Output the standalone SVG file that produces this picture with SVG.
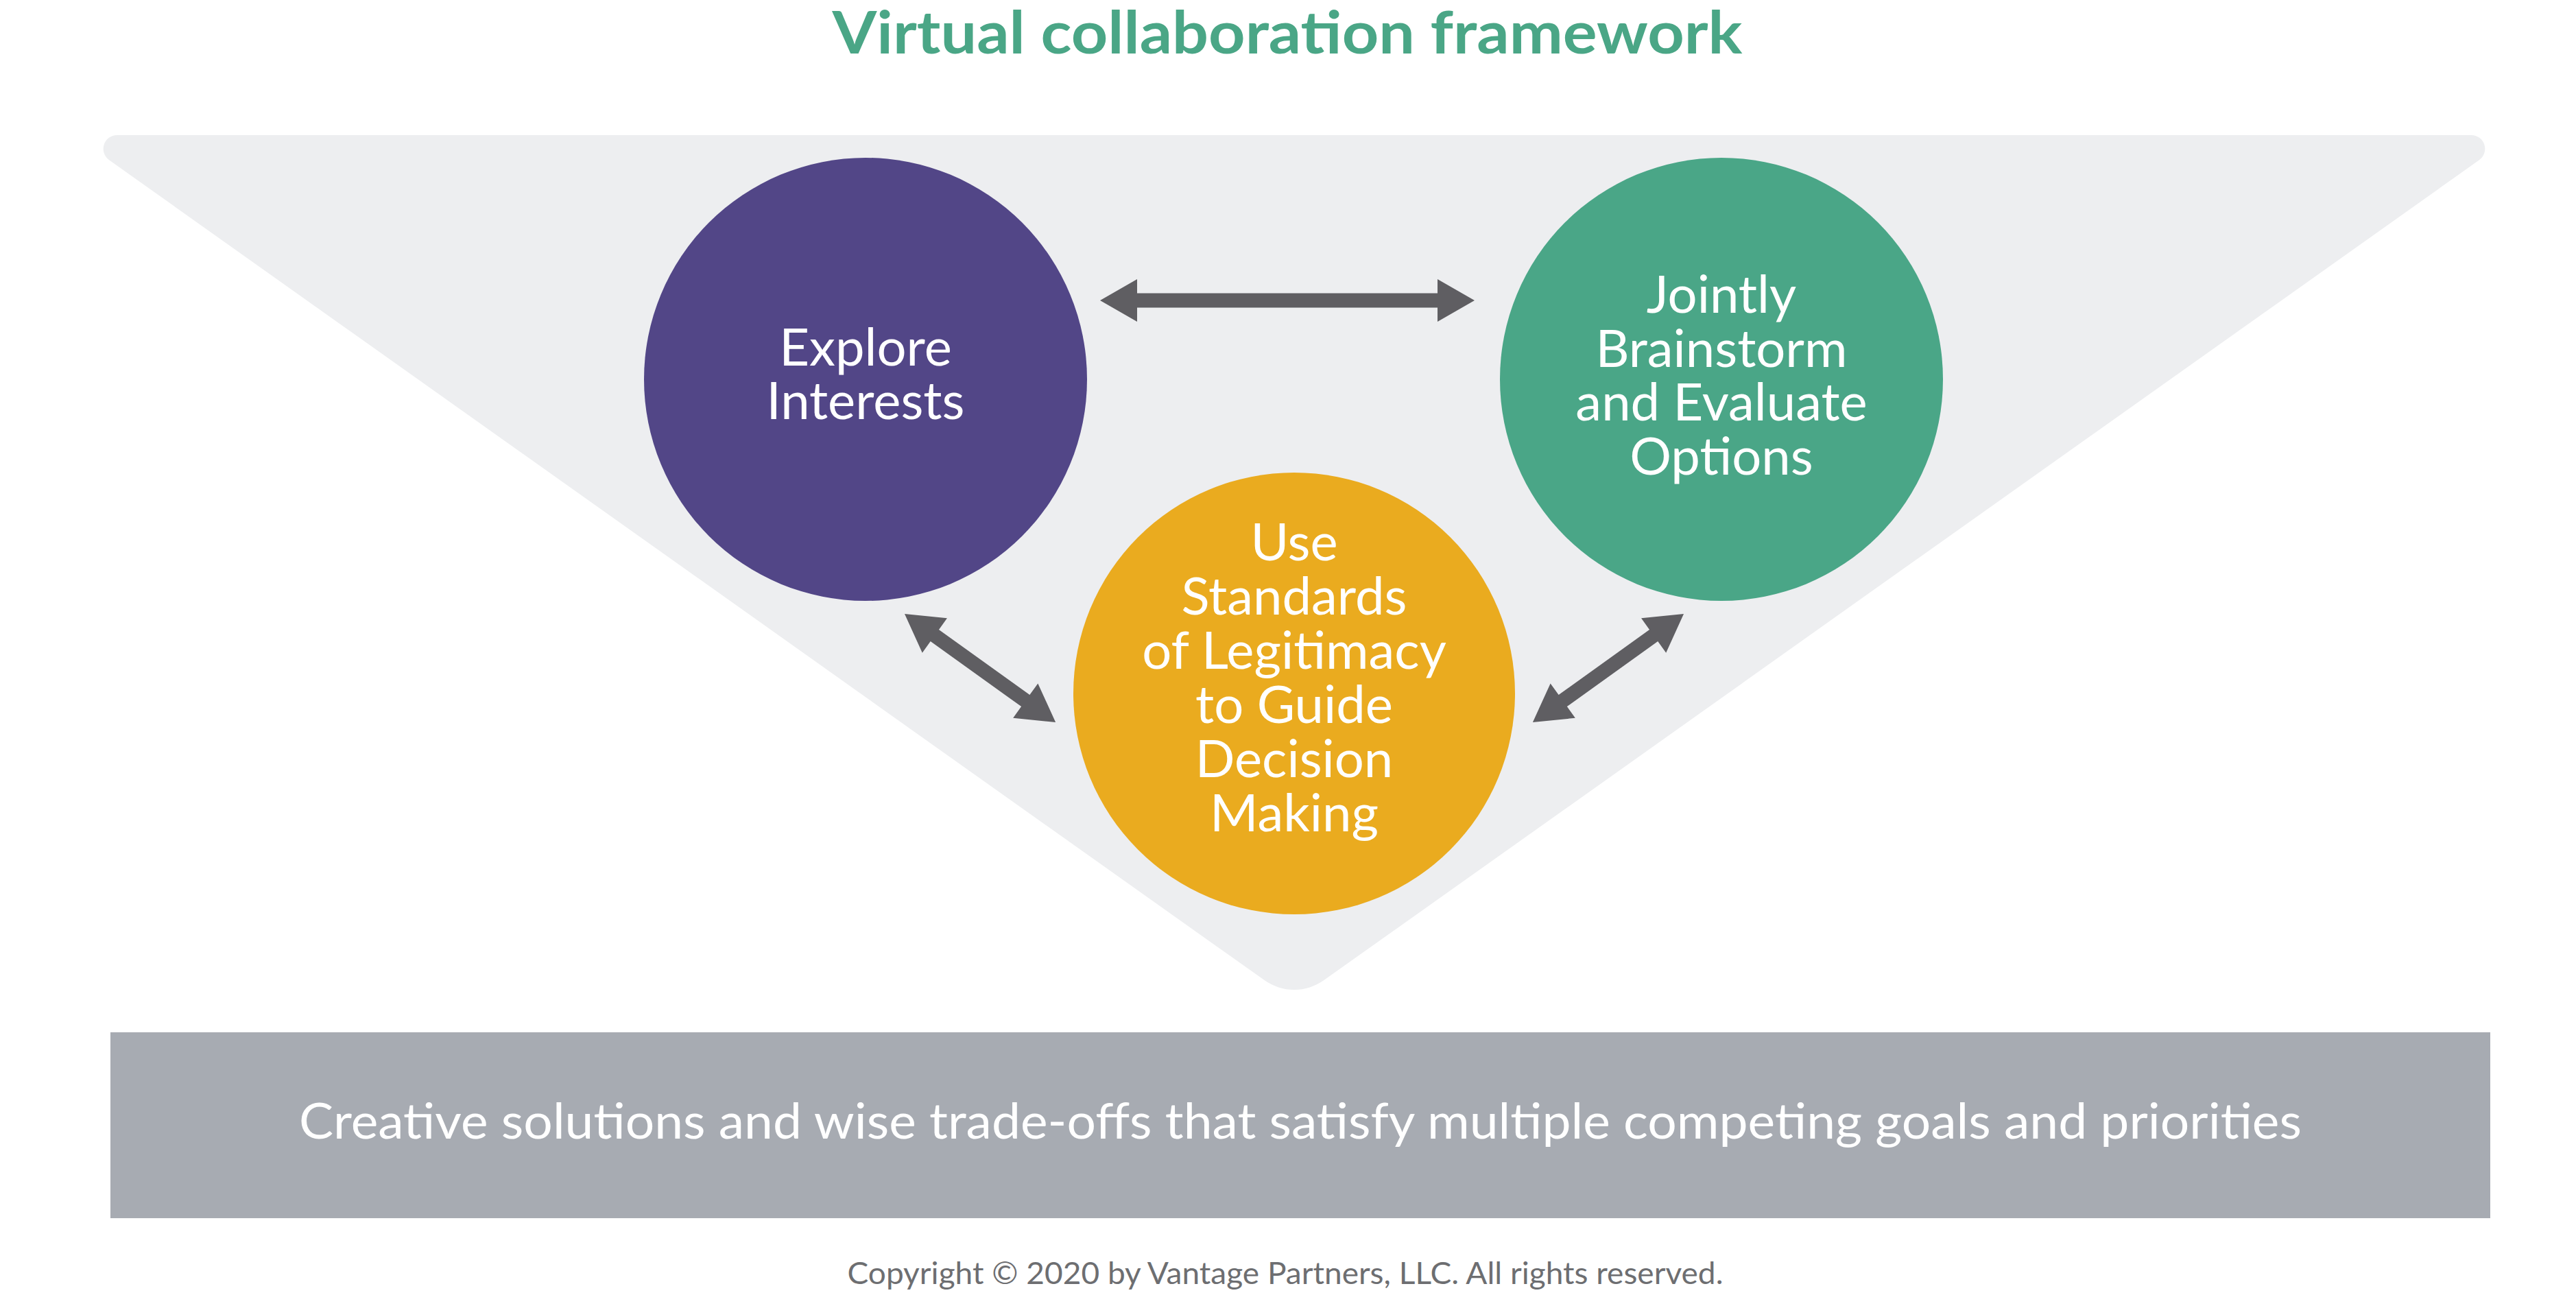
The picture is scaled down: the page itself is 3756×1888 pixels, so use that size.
<svg xmlns="http://www.w3.org/2000/svg" width="3756" height="1888" viewBox="0 0 3756 1888">
  <style>
    .lbl { font-family: Lato, "Open Sans", "Liberation Sans", sans-serif; font-size: 76px; fill: #ffffff; text-anchor: middle; }
    .arrow { fill: #5f5e62; }
  </style>
  <rect x="0" y="0" width="3756" height="1888" fill="#ffffff"/>
  <text x="1877" y="78" font-family="Lato, 'Liberation Sans', sans-serif" font-weight="bold" font-size="86" fill="#4aa686" text-anchor="middle" textLength="1327" lengthAdjust="spacingAndGlyphs">Virtual collaboration framework</text>
  <g id="funnel">
    <path d="M170.7,197 L3603.3,197 A20,20 0 0 1 3614.9,233.3 L1930.4,1429.1 A75,75 0 0 1 1843.6,1429.1 L159.1,233.3 A20,20 0 0 1 170.7,197 Z" fill="#edeef0"/>
  </g>
  <g id="connectors" class="arrow">
    <path transform="translate(1604,438)" d="M0,0 L54,-31 L54,-10.5 L492,-10.5 L492,-31 L546,0 L492,31 L492,10.5 L54,10.5 L54,31 Z"/>
    <path transform="translate(1319,895) rotate(35.68)" d="M0,0 L54,-31 L54,-10.5 L217,-10.5 L217,-31 L271,0 L217,31 L217,10.5 L54,10.5 L54,31 Z"/>
    <path transform="translate(2455,895) rotate(144.32)" d="M0,0 L54,-31 L54,-10.5 L217,-10.5 L217,-31 L271,0 L217,31 L217,10.5 L54,10.5 L54,31 Z"/>
  </g>
  <g id="explore-interests">
    <circle cx="1262" cy="553" r="323" fill="#524687"/>
    <text class="lbl" x="1262" y="533"><tspan x="1262">Explore</tspan><tspan x="1262" dy="78">Interests</tspan></text>
  </g>
  <g id="jointly-brainstorm">
    <circle cx="2510" cy="553" r="323" fill="#4aa687"/>
    <text class="lbl" x="2510" y="456"><tspan x="2510">Jointly</tspan><tspan x="2510" dy="79">Brainstorm</tspan><tspan x="2510" dy="78">and Evaluate</tspan><tspan x="2510" dy="79">Options</tspan></text>
  </g>
  <g id="use-standards">
    <circle cx="1887" cy="1011" r="322" fill="#eaab1f"/>
    <text class="lbl" x="1887" y="817"><tspan x="1887">Use</tspan><tspan x="1887" dy="79">Standards</tspan><tspan x="1887" dy="79">of Legitimacy</tspan><tspan x="1887" dy="79">to Guide</tspan><tspan x="1887" dy="79">Decision</tspan><tspan x="1887" dy="79">Making</tspan></text>
  </g>
  <g id="outcome">
    <rect x="161" y="1505" width="3470" height="271" fill="#a7abb2"/>
    <text x="1896" y="1660" font-family="Lato, 'Liberation Sans', sans-serif" font-size="72" fill="#ffffff" text-anchor="middle" textLength="2920" lengthAdjust="spacingAndGlyphs">Creative solutions and wise trade-offs that satisfy multiple competing goals and priorities</text>
  </g>
  <text x="1874" y="1872" font-family="Lato, 'Liberation Sans', sans-serif" font-size="44" fill="#6d6e71" text-anchor="middle" textLength="1277" lengthAdjust="spacingAndGlyphs">Copyright © 2020 by Vantage Partners, LLC. All rights reserved.</text>
</svg>
